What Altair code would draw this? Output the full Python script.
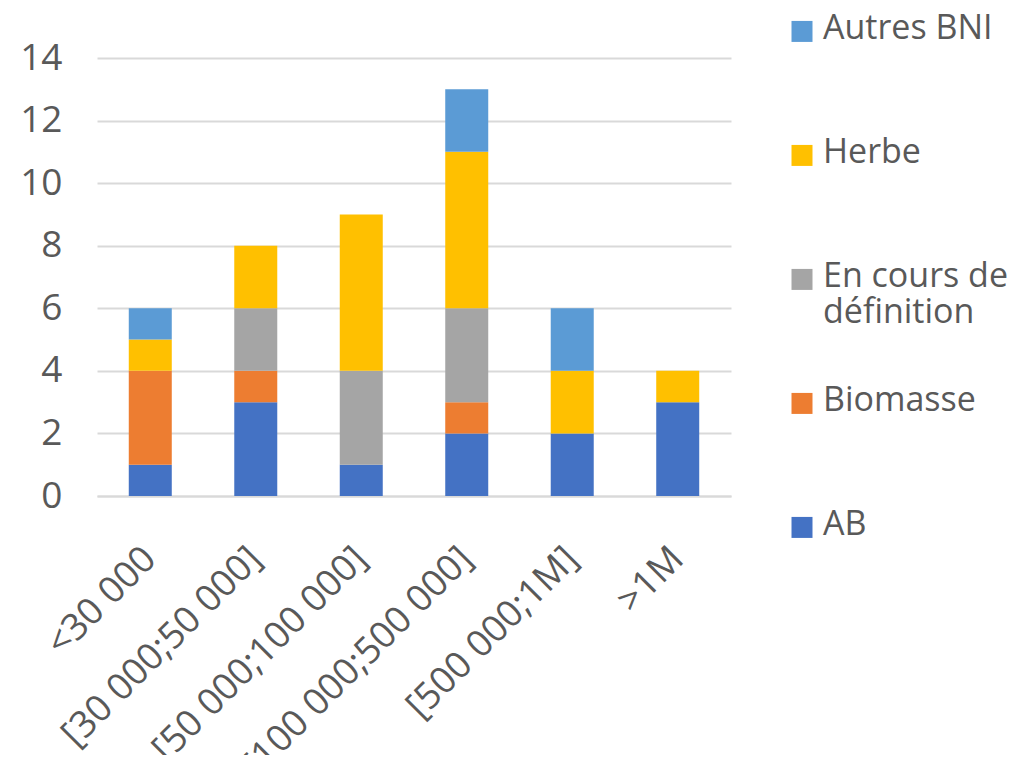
import altair as alt
import pandas as pd

categories = ["<30 000", "[30 000;50 000]", "[50 000;100 000]", "[100 000;500 000]", "[500 000;1M]", ">1M"]
series = ["AB", "Biomasse", "En cours de définition", "Herbe", "Autres BNI"]
colors = ["#4472C4", "#ED7D31", "#A5A5A5", "#FFC000", "#5B9BD5"]

ab = [1, 3, 1, 2, 2, 3]
biomasse = [3, 1, 0, 1, 0, 0]
en_cours = [0, 2, 3, 3, 0, 0]
herbe = [1, 2, 5, 5, 2, 1]
autres = [1, 0, 0, 2, 2, 0]

y_ticks = [0, 2, 4, 6, 8, 10, 12, 14]

values = [ab, biomasse, en_cours, herbe, autres]
rows = []
for si, (s, vals) in enumerate(zip(series, values)):
    for c, v in zip(categories, vals):
        rows.append({"cat": c, "serie": s, "val": v, "ord": si})
df = pd.DataFrame(rows)

FONT = "Open Sans"
TXT = "#595959"

label_expr = ("datum.label == 'En cours de définition' ? ['En cours de', 'définition'] "
              ": [datum.label, '']")

chart = alt.Chart(df).mark_bar(size=43).encode(
    x=alt.X("cat:N", sort=categories, title=None,
            scale=alt.Scale(paddingInner=0.59, paddingOuter=0.3),
            axis=alt.Axis(labelAngle=-45, labelAlign="right", labelBaseline="middle",
                          labelPadding=57, ticks=False, domainColor="#D9D9D9",
                          domainWidth=2, labelFontSize=37, labelColor=TXT,
                          labelFont=FONT, labelLimit=500)),
    y=alt.Y("val:Q", stack="zero", title=None,
            scale=alt.Scale(domain=[0, 14]),
            axis=alt.Axis(values=y_ticks, ticks=False, domain=False,
                          gridColor="#D9D9D9", gridWidth=2, labelPadding=35,
                          labelFontSize=37, labelColor=TXT, labelFont=FONT)),
    color=alt.Color("serie:N", sort=series,
                    scale=alt.Scale(domain=series, range=colors),
                    legend=alt.Legend(title=None, orient="none", legendX=688, legendY=-63,
                                      direction="vertical",
                                      symbolType="M-1,0.85H1V2.85H-1Z",
                                      symbolSize=441, symbolStrokeWidth=0,
                                      labelFontSize=34, labelFont=FONT, labelColor=TXT,
                                      labelBaseline="top", labelOffset=4, labelLimit=400,
                                      labelExpr=label_expr, rowPadding=37, padding=0,
                                      values=series[::-1])),
    order=alt.Order("ord:Q", sort="ascending"),
).properties(
    width=634, height=438,
    autosize=alt.AutoSizeParams(type="none"),
    padding={"left": 89, "top": 50, "right": 282, "bottom": 259},
).configure_view(stroke=None).configure_axis(gridDash=[])

chart.save("out.html", embed_options={"renderer": "svg", "actions": False})
